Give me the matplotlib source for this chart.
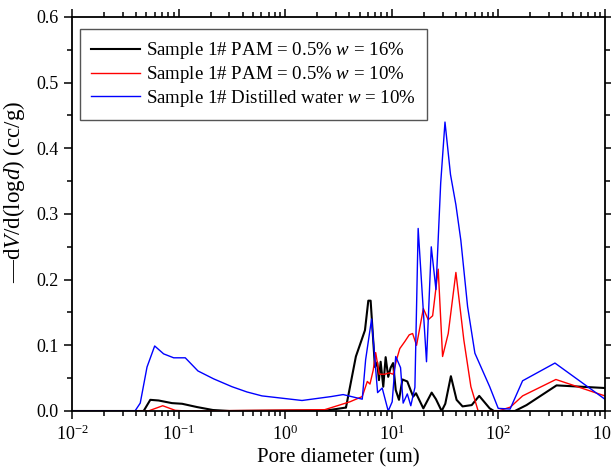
import numpy as np
import matplotlib
matplotlib.use('Agg')
import matplotlib.pyplot as plt
from matplotlib.ticker import LogLocator, MultipleLocator, NullFormatter

plt.rcParams['font.family'] = 'Liberation Serif'
plt.rcParams['mathtext.fontset'] = 'custom'
plt.rcParams['mathtext.rm'] = 'Liberation Serif'
plt.rcParams['mathtext.it'] = 'Liberation Serif:italic'

# sample 1# PAM = 0.5%, w = 16%
black_d = [0.01, 0.047, 0.0543, 0.065, 0.0867, 0.108, 0.149, 0.21, 0.3, 2.5, 3.64, 3.72,
           4.61, 5.61, 6.03, 6.34, 6.96, 7.31, 7.59, 7.87, 8.33, 8.77, 9.27, 9.77, 10.3,
           10.9, 11.7, 12.6, 14.0, 15.1, 15.9, 16.9, 19.8, 23.7, 26.0, 29.4, 31.8, 35.9,
           40.6, 46.2, 56.3, 66.2, 83.0, 91.0, 143, 184, 352, 1000]
black_v = [0.0, 0.0, 0.017, 0.016, 0.012, 0.011, 0.006, 0.0015, 0.0, 0.001, 0.005, 0.005,
           0.083, 0.123, 0.168, 0.168, 0.067, 0.074, 0.047, 0.075, 0.037, 0.082, 0.052, 0.066, 0.073,
           0.032, 0.017, 0.048, 0.045, 0.031, 0.022, 0.027, 0.004, 0.028, 0.018, 0.0, 0.011, 0.053,
           0.017, 0.007, 0.009, 0.023, 0.004, 0.0, 0.0, 0.009, 0.039, 0.035]

# sample 1# PAM = 0.5%, w = 10%
red_d = [0.01, 0.052, 0.071, 0.093, 0.12, 2.35, 4.05, 5.29, 5.9, 6.25, 6.7, 7.07, 7.64,
         8.63, 9.48, 10.3, 11.1, 11.9, 13.3, 14.6, 15.7, 17.1, 19.8, 22.0, 24.2, 27.3,
         30.0, 33.9, 40.0, 47.5, 55.3, 64.7, 100, 130, 169, 347, 1000]
red_v = [0.0, 0.0, 0.008, 0.001, 0.0, 0.002, 0.014, 0.022, 0.045, 0.041, 0.062, 0.089, 0.056,
         0.056, 0.058, 0.056, 0.078, 0.095, 0.106, 0.116, 0.118, 0.1, 0.156, 0.139, 0.145, 0.216,
         0.083, 0.118, 0.211, 0.108, 0.037, 0.0, 0.0, 0.006, 0.023, 0.048, 0.023]

# sample 1# distilled water, w = 10%
blue_d = [0.01, 0.039, 0.0437, 0.0506, 0.0597, 0.0724, 0.090, 0.1156, 0.152, 0.213, 0.317,
          0.438, 0.606, 1.44, 2.71, 3.5, 5.29, 5.69, 6.47, 7.37, 8.14, 9.27, 10.1, 10.9,
          12.1, 12.8, 14.0, 15.1, 16.5, 17.7, 21.2, 23.5, 26.0, 28.8, 31.6, 35.6, 40.0,
          44.5, 51.5, 60.3, 83.0, 99.8, 129, 169, 340, 1000]
blue_v = [0.0, 0.0, 0.012, 0.067, 0.099, 0.087, 0.081, 0.081, 0.061, 0.049, 0.037,
          0.029, 0.023, 0.016, 0.022, 0.025, 0.018, 0.078, 0.14, 0.028, 0.035, 0.0, 0.014, 0.083,
          0.066, 0.012, 0.026, 0.008, 0.036, 0.278, 0.075, 0.25, 0.185, 0.347, 0.44, 0.36, 0.314,
          0.26, 0.159, 0.088, 0.037, 0.004, 0.003, 0.046, 0.073, 0.018]

labels = ['Sample 1# PAM = 0.5% $\\it{w}$ = 16%',
          'Sample 1# PAM = 0.5% $\\it{w}$ = 10%',
          'Sample 1# Distilled water $\\it{w}$ = 10%']

fig = plt.figure(figsize=(6.11, 4.68), dpi=100)
ax = fig.add_axes([0.1178, 0.1218, 0.8722, 0.8419])

ax.plot(black_d, black_v, color='black', lw=1.5, label=labels[0])
ax.plot(red_d, red_v, color='red', lw=1.0, label=labels[1])
ax.plot(blue_d, blue_v, color='blue', lw=1.0, label=labels[2])

ax.set_xscale('log')
ax.set_xlim(0.01, 1000)
ax.set_ylim(0, 0.6)
ax.xaxis.set_major_locator(LogLocator(base=10, numticks=10))
ax.xaxis.set_minor_locator(LogLocator(base=10, subs=np.arange(2, 10), numticks=20))
ax.xaxis.set_minor_formatter(NullFormatter())
ax.yaxis.set_major_locator(MultipleLocator(0.1))
ax.yaxis.set_minor_locator(MultipleLocator(0.05))
ax.yaxis.set_major_formatter(plt.FuncFormatter(lambda v, p: '%.1f' % v))

for s in ax.spines.values():
    s.set_linewidth(1.3)
ax.tick_params(which='both', direction='out', top=True, right=True, width=1.1, labelsize=13)
ax.tick_params(which='major', length=6)
ax.tick_params(which='minor', length=3.5)

ax.set_xlabel('Pore diameter (um)', fontsize=15, labelpad=3)
ax.set_ylabel('—d$\\it{V}$/d(log$\\it{d}$) (cc/g)', fontsize=16.5)
ax.yaxis.set_label_coords(-0.084, 0.556)

leg = ax.legend(loc='upper left', bbox_to_anchor=(0.015, 0.9695), fontsize=13.6,
                fancybox=False, edgecolor='#555555', framealpha=1, handlelength=2.6,
                handletextpad=0.3, borderpad=0.6, labelspacing=0.15, borderaxespad=0)
leg.get_frame().set_linewidth(1.0)

fig.savefig('out.png', dpi=100)
